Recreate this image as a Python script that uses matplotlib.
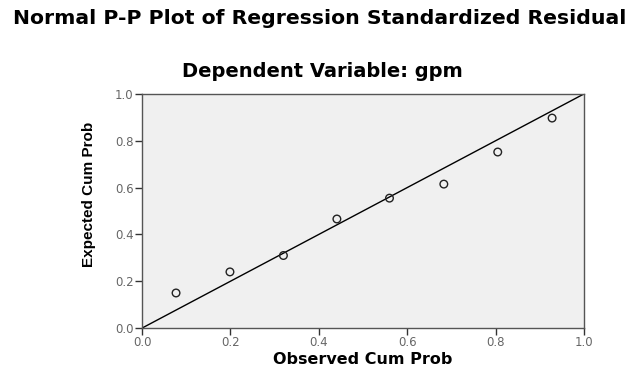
import matplotlib.pyplot as plt

observed = [0.077, 0.199, 0.320, 0.441, 0.560, 0.683, 0.805, 0.928]
expected = [0.150, 0.240, 0.310, 0.466, 0.555, 0.615, 0.752, 0.897]
ticks = [0.0, 0.2, 0.4, 0.6, 0.8, 1.0]

plt.rcParams['font.family'] = ['DejaVu Sans']

fig = plt.figure(figsize=(6.34, 3.67), dpi=100)
ax = fig.add_axes([0.224, 0.106, 0.697, 0.638])
ax.set_facecolor('#f0f0f0')

ax.plot([0, 1], [0, 1], color='black', lw=1.0)
ax.scatter(observed, expected, s=30, facecolors='none', edgecolors='#222222', linewidths=1.0, zorder=3)

ax.set_xlim(0, 1)
ax.set_ylim(0, 1)
ax.set_xticks(ticks)
ax.set_yticks(ticks)
ax.set_xticklabels(["%.1f" % t for t in ticks])
ax.set_yticklabels(["%.1f" % t for t in ticks])
ax.tick_params(direction='out', length=5, width=1, labelsize=8.5, labelcolor='#666666',
               color='#333333', pad=1)
for s in ax.spines.values():
    s.set_color('#555555')
    s.set_linewidth(1.0)

ax.set_xlabel("Observed Cum Prob", fontsize=11.5, fontweight='bold')
ax.xaxis.set_label_coords(0.5, -0.1)
ax.set_ylabel("Expected Cum Prob", fontsize=11, fontweight='bold',
              family=['Liberation Sans Narrow', 'Liberation Sans'])
ax.yaxis.set_label_coords(-0.105, 0.57)

fig.text(0.02, 0.95, "Normal P-P Plot of Regression Standardized Residual",
         fontsize=14.7, fontweight='bold', ha='left', va='center')
fig.text(0.509, 0.804, "Dependent Variable: gpm", fontsize=14, fontweight='bold',
         ha='center', va='center')

fig.savefig("out.png", dpi=100)
